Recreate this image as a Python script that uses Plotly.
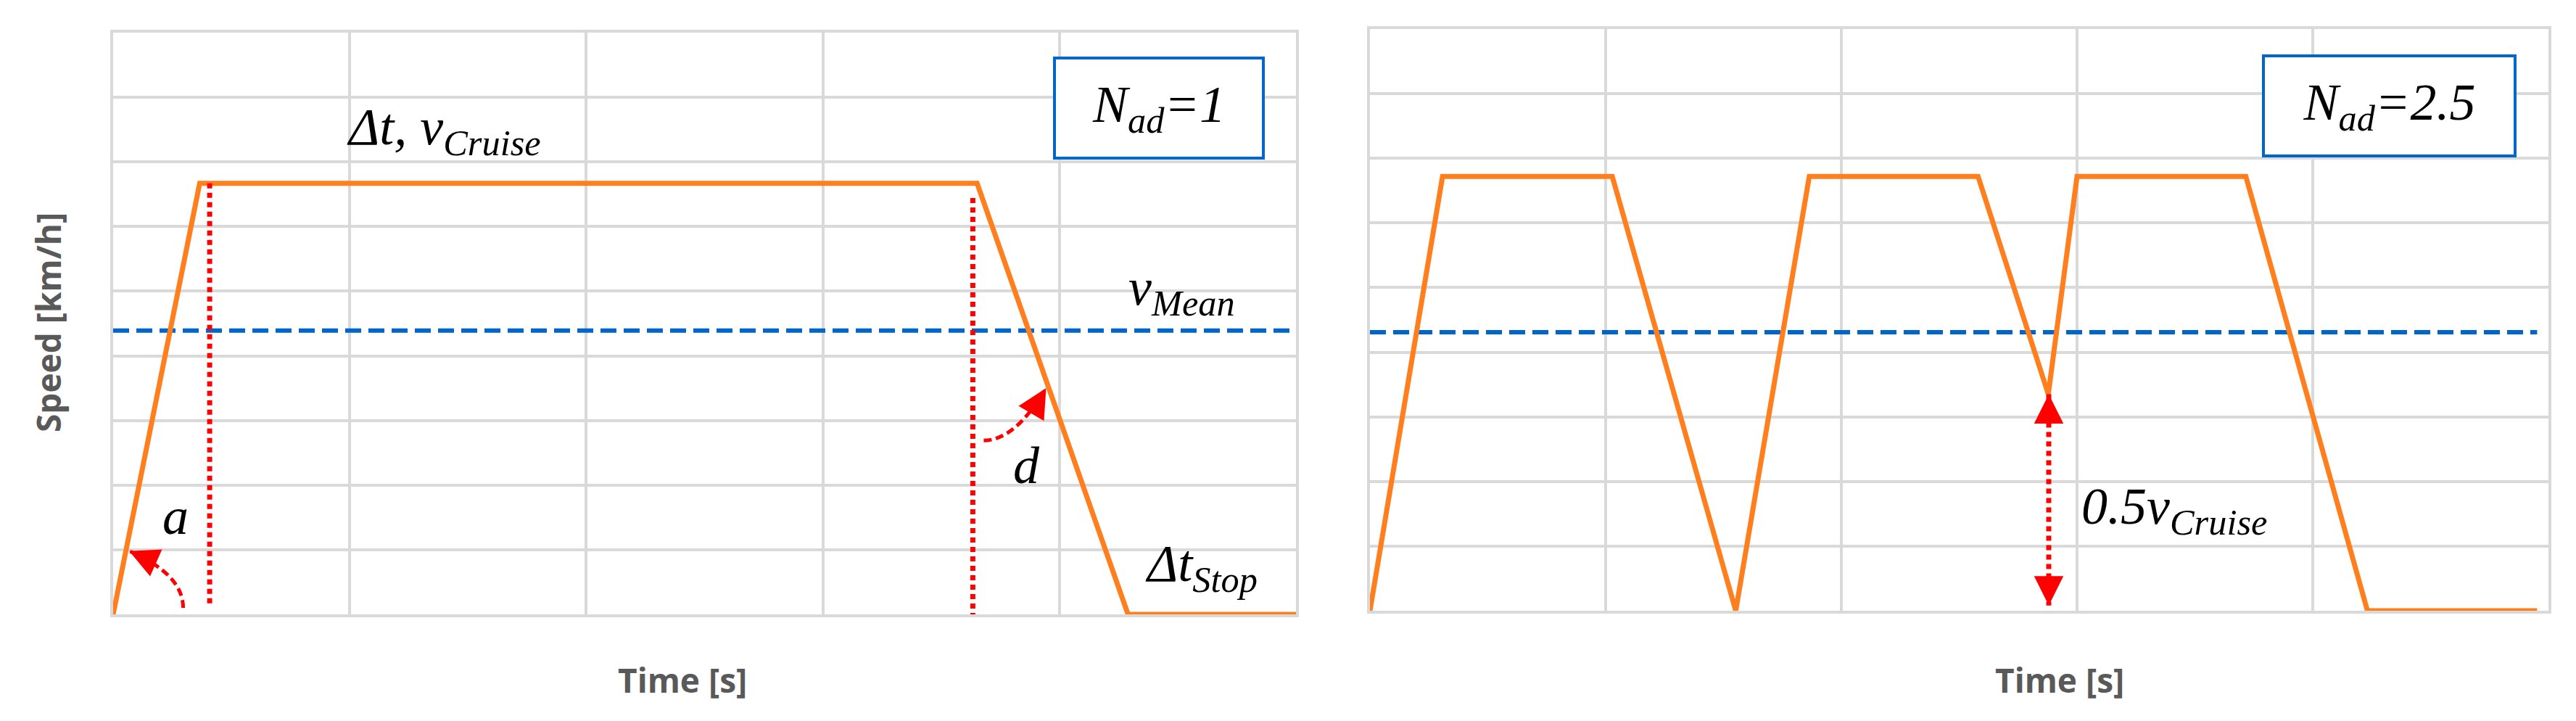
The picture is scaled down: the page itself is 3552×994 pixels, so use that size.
import plotly.graph_objects as go
from plotly.subplots import make_subplots

# left panel: one accelerate / cruise / decelerate cycle (N_ad = 1)
time_1 = [0, 18.3, 182.6, 214.5, 250]
speed_1 = [0, 66.7, 66.7, 0, 0]
mean_1 = 43.9

# right panel: N_ad = 2.5
time_2 = [0, 15.4, 51.4, 77.6, 93.2, 129.0, 143.9, 150.0, 185.8, 211.6, 247.6]
speed_2 = [0, 67.2, 67.2, 0, 67.2, 67.2, 33.5, 67.2, 67.2, 0, 0]
mean_2 = 43.1

# red dotted guides in the left panel
accel_guide_t = [20.4, 20.4]
accel_guide_v = [66.7, 1.6]
decel_guide_t = [181.7, 181.7]
decel_guide_v = [64.4, 0]

# 0.5 v_cruise marker in the right panel
half_t = [144.0, 144.0]
half_v = [33.5, 0.8]

# curved angle arrows: start, control point, tip
arc_a = [(14.8, 1.0), (14.8, 6.2), (3.4, 9.8)]
arc_d = [(184.0, 26.9), (190.6, 26.9), (197.2, 35.0)]

ORANGE = '#FF7F1E'
BLUE = '#0066CC'
RED = '#FF0000'
GRID = '#D9D9D9'

W, H = 3552, 994
OFF = 8  # page body margin of the html file

fig = make_subplots(rows=1, cols=2)

# mean speed lines
fig.add_trace(go.Scatter(x=[time_1[0], time_1[-1]], y=[mean_1, mean_1], mode='lines',
                         line=dict(color=BLUE, width=6, dash='22px,10px'), cliponaxis=False), 1, 1)
fig.add_trace(go.Scatter(x=[time_2[0], time_2[-1]], y=[mean_2, mean_2], mode='lines',
                         line=dict(color=BLUE, width=6, dash='22px,10px'), cliponaxis=False), 1, 2)

# speed profiles
fig.add_trace(go.Scatter(x=time_1, y=speed_1, mode='lines',
                         line=dict(color=ORANGE, width=7), cliponaxis=False), 1, 1)
fig.add_trace(go.Scatter(x=time_2, y=speed_2, mode='lines',
                         line=dict(color=ORANGE, width=7), cliponaxis=False), 1, 2)

# red dotted guides
for t, v, c in [(accel_guide_t, accel_guide_v, 1), (decel_guide_t, decel_guide_v, 1), (half_t, half_v, 2)]:
    fig.add_trace(go.Scatter(x=t, y=v, mode='lines', line=dict(color=RED, width=7, dash='7px,6px'),
                             cliponaxis=False), 1, c)

fig.update_traces(showlegend=False, hoverinfo='skip')


def arc_path(pts):
    (x0, y0), (cx, cy), (x1, y1) = pts
    return f'M {x0},{y0} Q {cx},{cy} {x1},{y1}'


for arc in (arc_a, arc_d):
    fig.add_shape(type='path', path=arc_path(arc), xref='x', yref='y',
                  line=dict(color=RED, width=5, dash='11px,6px'))

head = dict(text='', showarrow=True, arrowhead=2, arrowsize=2.7, arrowwidth=3, arrowcolor=RED)
fig.add_annotation(x=arc_a[2][0], y=arc_a[2][1], xref='x', yref='y', ax=18, ay=8, **head)
fig.add_annotation(x=arc_d[2][0], y=arc_d[2][1], xref='x', yref='y', ax=-10, ay=17, **head)
fig.add_annotation(x=half_t[0], y=half_v[0], xref='x2', yref='y2', ax=0, ay=20, **head)
fig.add_annotation(x=half_t[1], y=half_v[1], xref='x2', yref='y2', ax=0, ay=-20, **head)

label_font = dict(family='Liberation Serif', size=72, color='black')
labels = [
    ('x', 'y', 49, 74.8, '<i>Δt, v<sub>Cruise</sub></i>', 'left'),
    ('x', 'y', 13.2, 15.2, '<i>a</i>', 'center'),
    ('x', 'y', 193.0, 23.0, '<i>d</i>', 'center'),
    ('x', 'y', 217.8, 7.3, '<i>Δt<sub>Stop</sub></i>', 'left'),
    ('x', 'y', 214.3, 50.0, '<i>v<sub>Mean</sub></i>', 'left'),
    ('x2', 'y2', 150.6, 15.6, '<i>0.5v<sub>Cruise</sub></i>', 'left'),
]
for xr, yr, x, y, txt, anchor in labels:
    fig.add_annotation(x=x, y=y, xref=xr, yref=yr, text=txt, showarrow=False,
                       xanchor=anchor, yanchor='middle', font=label_font)

# N_ad boxes
fig.add_annotation(x=221.0, y=78.3, xref='x', yref='y', text='<i>N<sub>ad</sub>=1</i>',
                   showarrow=False, bordercolor=BLUE, borderwidth=4, borderpad=0, bgcolor='white',
                   width=284, height=134, font=label_font)
fig.add_annotation(x=216.2, y=78.1, xref='x2', yref='y2', text='<i>N<sub>ad</sub>=2.5</i>',
                   showarrow=False, bordercolor=BLUE, borderwidth=4, borderpad=0, bgcolor='white',
                   width=343, height=134, font=label_font)

# axis titles
title_font = dict(family='Open Sans', size=46, color='#595959', weight='bold')
fig.add_annotation(x=(66 - OFF) / W, y=1 - (445 - OFF) / H, xref='paper', yref='paper',
                   text='Speed [km/h]', textangle=-90, showarrow=False,
                   xanchor='center', yanchor='middle', font=dict(title_font, size=46))
for cx in (941, 2840):
    fig.add_annotation(x=(cx - OFF) / W, y=1 - (937 - OFF) / H, xref='paper', yref='paper',
                       text='Time [s]', showarrow=False, xanchor='center', yanchor='middle',
                       font=title_font)

axis_style = dict(showticklabels=False, ticks='', showgrid=True, gridcolor=GRID, gridwidth=3.5,
                  zeroline=False, showline=True, linecolor=GRID, linewidth=3.5, mirror=True,
                  layer='below traces')
fig.update_xaxes(range=[0, 250], tick0=0, dtick=50, **axis_style)
fig.update_yaxes(range=[0, 90], tick0=0, dtick=10, **axis_style)

fig.update_layout(
    width=W, height=H,
    margin=dict(l=0, r=0, t=0, b=0),
    plot_bgcolor='white', paper_bgcolor='white',
    xaxis=dict(domain=[(156 - OFF) / W, (1787 - OFF) / W]),
    xaxis2=dict(domain=[(1889 - OFF) / W, (3514 - OFF) / W]),
    yaxis=dict(domain=[1 - (847 - OFF) / H, 1 - (45 - OFF) / H]),
    yaxis2=dict(domain=[1 - (842 - OFF) / H, 1 - (40 - OFF) / H]),
)

fig.write_html('out.html')
